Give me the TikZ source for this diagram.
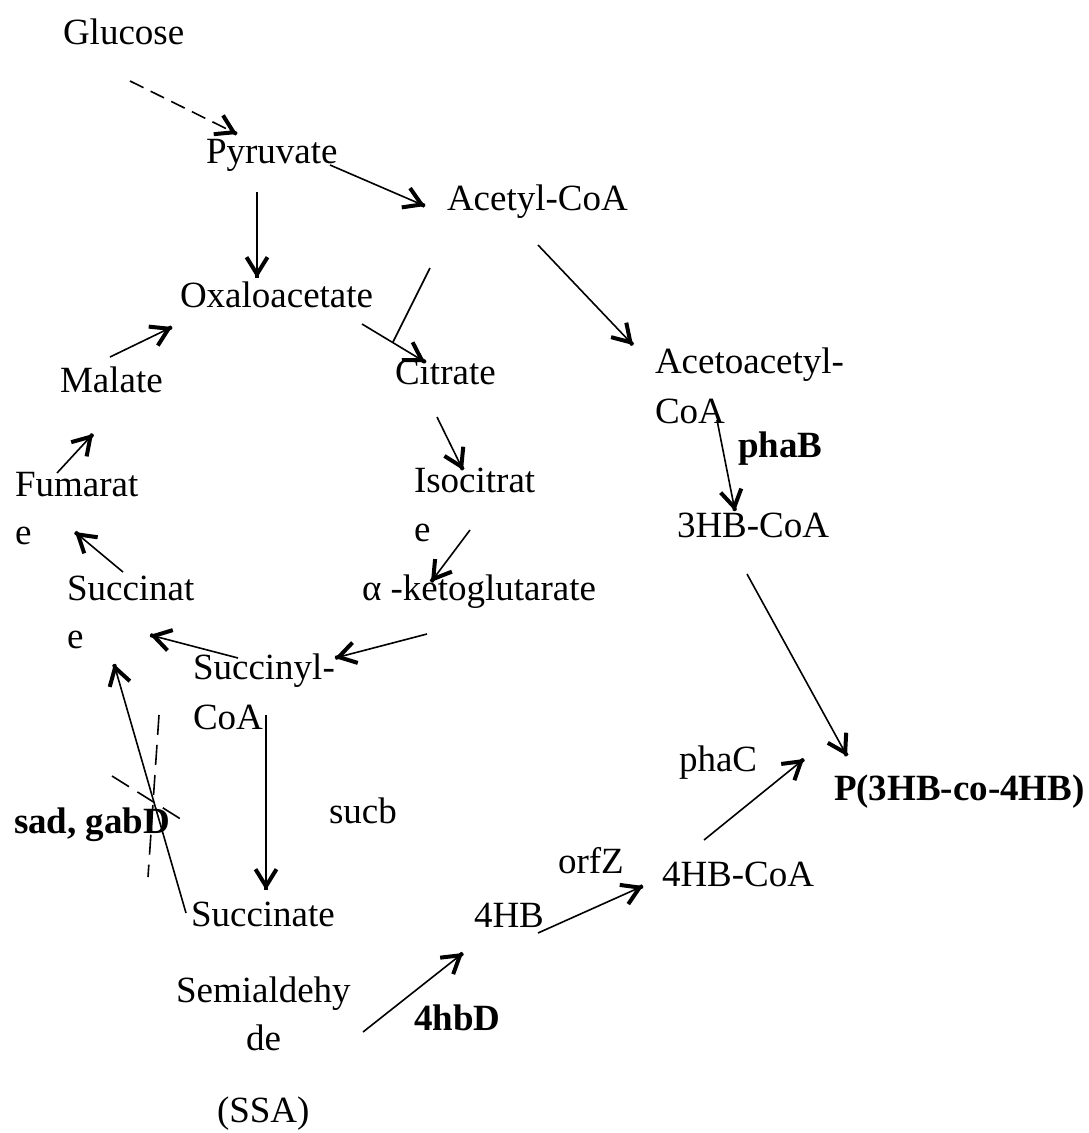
\documentclass[tikz,border=0pt]{standalone}
\usepackage{fontspec}
\setmainfont{Liberation Serif}
\usetikzlibrary{arrows.meta,calc}
\newcommand\rxarrow[3][plain]{%
  \draw[#1] (#2) -- (#3);
  \draw[tiponly] ($(#3)!0.5pt!(#2)$) -- (#3);}
\begin{document}
\begin{tikzpicture}[x=1pt,y=-1pt,
  lbl/.style={anchor=base west,inner sep=0pt,outer sep=0pt,font=\fontsize{37}{44}\selectfont},
  blbl/.style={lbl,font=\fontsize{37}{44}\selectfont\bfseries},
  plain/.style={line width=1.6pt},
  tiponly/.style={line width=4pt,-{Straight Barb[length=17pt,width=21pt,line width=4pt]}},
  dashA/.style={line width=1.6pt,dash pattern=on 15pt off 8pt},
  dashB/.style={line width=1.6pt,dash pattern=on 20pt off 10pt}]
\useasboundingbox (0,0) rectangle (1089,1133);
% labels
\node[lbl] (glu) at (63,44) {Glucose};
\node[lbl] (pyr) at (206,163) {Pyruvate};
\node[lbl] (acc) at (447,210) {Acetyl-CoA};
\node[lbl] (oaa) at (180,307) {Oxaloacetate};
\node[lbl] (mal) at (60,392) {Malate};
\node[lbl] (cit) at (395,384) {Citrate};
\node[lbl] (aac1) at (655,373) {Acetoacetyl-};
\node[lbl] (aac2) at (655,423) {CoA};
\node[blbl] (phab) at (738,457) {phaB};
\node[lbl] (fum1) at (15,496) {Fumarat};
\node[lbl] (fum2) at (15,544) {e};
\node[lbl] (iso1) at (414,492) {Isocitrat};
\node[lbl] (iso2) at (414,541) {e};
\node[lbl] (hbc) at (677,537) {3HB-CoA};
\node[lbl] (suc1) at (67,600) {Succinat};
\node[lbl] (suc2) at (67,648) {e};
\node[lbl] (akg) at (362,600) {α -ketoglutarate};
\node[lbl] (sca1) at (193,679) {Succinyl-};
\node[lbl] (sca2) at (193,729) {CoA};
\node[lbl] (phac) at (679,771) {phaC};
\node[blbl] (pol) at (834,800) {P(3HB-co-4HB)};
\node[blbl] (sad) at (14,833) {sad, gabD};
\node[lbl] (sucb) at (329,823) {sucb};
\node[lbl] (orfz) at (558,873) {orfZ};
\node[lbl] (hbcoa) at (662,886) {4HB-CoA};
\node[lbl] (ssa1) at (191,926) {Succinate};
\node[lbl] (hb) at (474,927) {4HB};
\node[lbl] (ssa2) at (176,1002) {Semialdehy};
\node[blbl] (hbd) at (414,1030) {4hbD};
\node[lbl] (ssa3) at (246,1050) {de};
\node[lbl] (ssa4) at (217,1122) {(SSA)};
% connector end points
\coordinate (glu-o) at (130,81);   \coordinate (pyr-i) at (237,134);
\coordinate (pyr-o1) at (330,165); \coordinate (acc-i) at (425,206);
\coordinate (pyr-o2) at (257,192); \coordinate (oaa-i) at (257,278);
\coordinate (acc-o1) at (538,245); \coordinate (aac-i) at (633,345);
\coordinate (acc-o2) at (430,268); \coordinate (acc-j) at (393,342);
\coordinate (oaa-o) at (362,324);  \coordinate (cit-i) at (425,362);
\coordinate (mal-o) at (110,357);  \coordinate (oaa-i2) at (172,327);
\coordinate (fum-o) at (57,473);   \coordinate (mal-i) at (93,434);
\coordinate (cit-o) at (437,417);  \coordinate (iso-i) at (463,470);
\coordinate (aac-o) at (717,420);  \coordinate (hbc-i) at (735,511);
\coordinate (suc-o) at (123,572);  \coordinate (fum-i) at (75,532);
\coordinate (iso-o) at (470,530);  \coordinate (akg-i) at (431,582);
\coordinate (akg-o) at (427,634);  \coordinate (sca-i) at (335,658);
\coordinate (sca-o1) at (238,658); \coordinate (suc-i) at (150,635);
\coordinate (hbc-o) at (747,574);  \coordinate (pol-i1) at (847,756);
\coordinate (sca-o2) at (266,715); \coordinate (ssa-i) at (266,890);
\coordinate (ssa-o1) at (186,913); \coordinate (suc-i2) at (114,664);
\coordinate (x1a) at (159,715);    \coordinate (x1b) at (148,877);
\coordinate (x2a) at (112,776);    \coordinate (x2b) at (187,823);
\coordinate (hbcoa-o) at (704,840);\coordinate (pol-i2) at (804,759);
\coordinate (hb-o) at (538,933);   \coordinate (hbcoa-i) at (643,886);
\coordinate (ssa-o2) at (363,1032);\coordinate (hb-i) at (463,953);
% connectors
\rxarrow[dashA]{glu-o}{pyr-i}
\rxarrow{pyr-o1}{acc-i}
\rxarrow{pyr-o2}{oaa-i}
\rxarrow{acc-o1}{aac-i}
\draw[plain] (acc-o2) -- (acc-j);
\rxarrow{oaa-o}{cit-i}
\rxarrow{mal-o}{oaa-i2}
\rxarrow{fum-o}{mal-i}
\rxarrow{cit-o}{iso-i}
\rxarrow{aac-o}{hbc-i}
\rxarrow{suc-o}{fum-i}
\rxarrow{iso-o}{akg-i}
\rxarrow{akg-o}{sca-i}
\rxarrow{sca-o1}{suc-i}
\rxarrow{hbc-o}{pol-i1}
\rxarrow{sca-o2}{ssa-i}
\rxarrow{ssa-o1}{suc-i2}
\draw[dashB] (x1a) -- (x1b);
\draw[dashB] (x2a) -- (x2b);
\rxarrow{hbcoa-o}{pol-i2}
\rxarrow{hb-o}{hbcoa-i}
\rxarrow{ssa-o2}{hb-i}
\end{tikzpicture}
\end{document}
